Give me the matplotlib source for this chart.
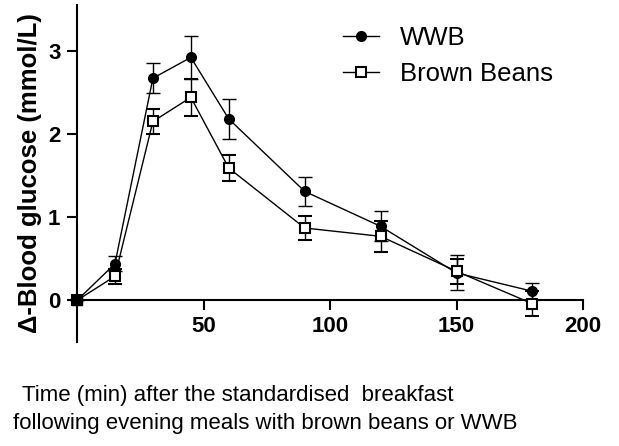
import matplotlib.pyplot as plt
from matplotlib.lines import Line2D

plt.rcParams['font.family'] = ['Liberation Sans', 'DejaVu Sans']

# time points (min)
time = [0, 15, 30, 45, 60, 90, 120, 150, 180]

# WWB
wwb = [0, 0.44, 2.67, 2.92, 2.18, 1.31, 0.89, 0.33, 0.11]
wwb_err = [0, 0.09, 0.18, 0.26, 0.24, 0.17, 0.18, 0.21, 0.10]

# Brown beans
bb = [0, 0.29, 2.15, 2.44, 1.59, 0.87, 0.77, 0.35, -0.04]
bb_err = [0, 0.09, 0.15, 0.22, 0.16, 0.15, 0.19, 0.15, 0.15]

fig = plt.figure(figsize=(6.19, 4.46), dpi=100)
ax = fig.add_axes([77/619, 104/446, 506/619, 337/446])

ax.errorbar(time, wwb, yerr=wwb_err, color='black', marker='o', markersize=7,
            lw=1, capsize=5, elinewidth=1, capthick=1, clip_on=False, zorder=3)
ax.errorbar(time, bb, yerr=bb_err, color='black', marker='s', markersize=7.5,
            markerfacecolor='white', markeredgewidth=1.5, lw=1, capsize=5,
            elinewidth=1, capthick=1, clip_on=False, zorder=3)
# starting point drawn as a filled square, as in the original
ax.plot(time[0], bb[0], marker='s', markersize=7.5, color='black',
        clip_on=False, zorder=4)

ax.set_xlim(0, 200)
ax.set_ylim(-0.5, 3.55)
ax.spines['top'].set_visible(False)
ax.spines['right'].set_visible(False)
ax.spines['bottom'].set_position(('data', 0))
for s in ['left', 'bottom']:
    ax.spines[s].set_linewidth(1.5)

ax.set_xticks([50, 100, 150, 200])
ax.set_yticks([0, 1, 2, 3])
ax.tick_params(direction='out', length=7, width=1.5, labelsize=16)
for lab in ax.get_xticklabels() + ax.get_yticklabels():
    lab.set_fontweight('bold')
ax.xaxis.set_tick_params(pad=4)
ax.yaxis.set_tick_params(pad=5)

ax.set_ylabel('Δ-Blood glucose (mmol/L)', fontsize=18.5, fontweight='bold',
              labelpad=4)

fig.text(22/619, 1 - 396/446, 'Time (min) after the standardised  breakfast',
         fontsize=16, ha='left', va='center')
fig.text(13/619, 1 - 424/446, 'following evening meals with brown beans or WWB',
         fontsize=16, ha='left', va='center')

handles = [
    Line2D([], [], color='black', lw=1, marker='o', markersize=7),
    Line2D([], [], color='black', lw=1, marker='s', markersize=7.5,
           markerfacecolor='white', markeredgewidth=1.5),
]
leg = ax.legend(handles, ['WWB', 'Brown Beans'], loc='upper left',
                bbox_to_anchor=(0.48, 1.005), frameon=False, fontsize=18.5,
                handlelength=1.4, handletextpad=0.8, labelspacing=0.45)

fig.savefig('out.png', dpi=100)
